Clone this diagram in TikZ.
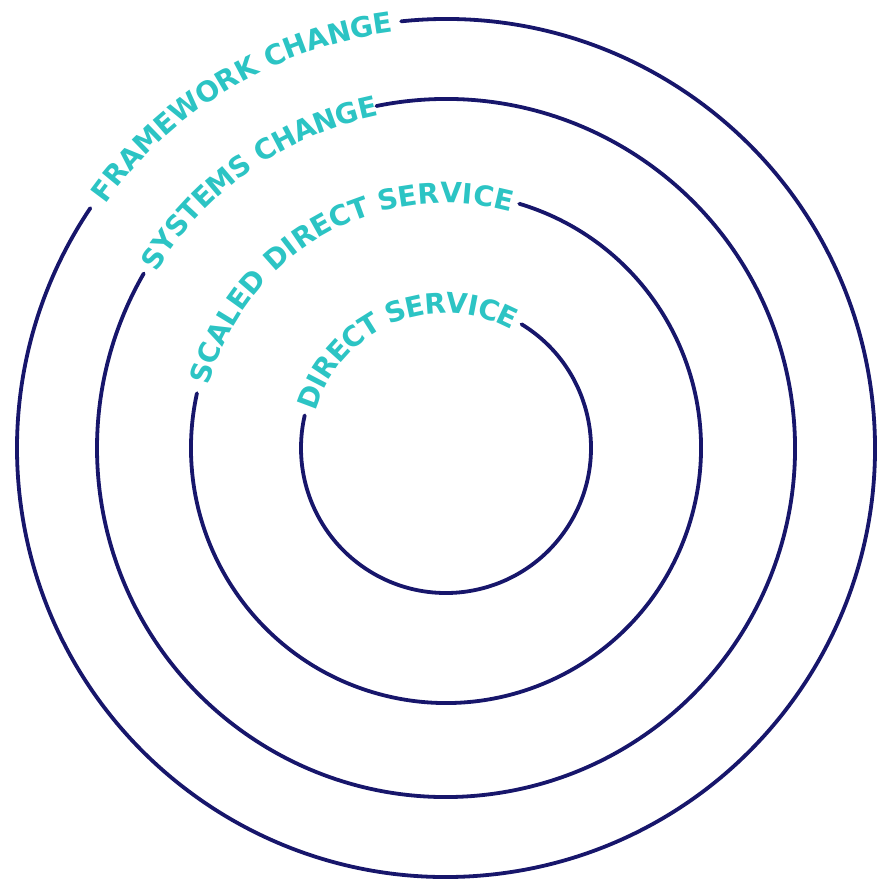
\documentclass[tikz,border=0pt]{standalone}
\usepackage{fontspec}
\newfontfamily\ringfam{DejaVu Sans Bold}
\usetikzlibrary{decorations.text}

\definecolor{ringblue}{HTML}{17166B}
\definecolor{labelteal}{HTML}{2CC4C4}
\newcommand{\ringfont}{\ringfam\fontsize{28}{28}\selectfont}

\tikzstyle{ring}=[draw=ringblue, line width=3.8pt, line cap=round]
\tikzstyle{ringlabel}=[decorate, decoration={text along path, text align=fit to path, raise=-10pt, text color=labelteal}]

\begin{document}
\begin{tikzpicture}[x=1pt,y=1pt]
\useasboundingbox (-446,-435) rectangle (430,448);

% outer ring
\draw[ring] (96:429) arc[start angle=96, end angle=-214, radius=429];
\path[ringlabel, decoration={text={|\ringfont|FRAMEWORK CHANGE}}] (144.4:429) arc[start angle=144.4, end angle=97.2, radius=429];

% third ring
\draw[ring] (101.5:349) arc[start angle=101.5, end angle=-210, radius=349];
\path[ringlabel, decoration={text={|\ringfont|SYSTEMS CHANGE}}] (148.7:349) arc[start angle=148.7, end angle=102.6, radius=349];

% second ring
\draw[ring] (73.3:255) arc[start angle=73.3, end angle=-192.4, radius=255];
\path[ringlabel, decoration={text={|\ringfont|SCALED DIRECT SERVICE}}] (165.1:255) arc[start angle=165.1, end angle=74.7, radius=255];

% inner ring
\draw[ring] (58.6:145) arc[start angle=58.6, end angle=-193, radius=145];
\path[ringlabel, decoration={text={|\ringfont|DIRECT SERVICE}}] (164:145) arc[start angle=164, end angle=61, radius=145];
\end{tikzpicture}
\end{document}
